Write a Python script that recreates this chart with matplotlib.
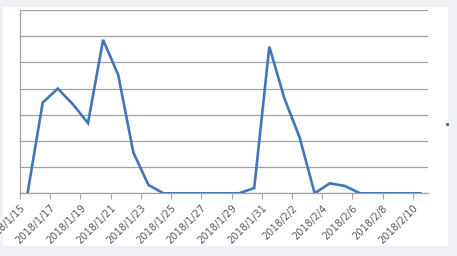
import numpy as np
import matplotlib.pyplot as plt
import matplotlib.dates as mdates
from matplotlib.patches import Rectangle
from matplotlib.lines import Line2D
import datetime as dt

# daily values, 2018/1/15 .. 2018/2/10
start = dt.date(2018, 1, 15)
values = [0, 173, 200, 170, 134, 293, 226, 78, 16, 0,
          0, 0, 0, 0, 0, 10, 280, 181, 107, 0,
          19, 14, 0, 0, 0, 0, 0]
dates = [start + dt.timedelta(days=i) for i in range(len(values))]
tick_dates = [start + dt.timedelta(days=2 * i) for i in range(14)]
tick_labels = [f"{d.year}/{d.month}/{d.day}" for d in tick_dates]

W, H = 457, 256
fig = plt.figure(figsize=(W / 100, H / 100), dpi=100, facecolor="#eef0f3")

# white chart panel
fig.add_artist(Rectangle((3 / W, 1 - 246 / H), 445 / W, 239 / H,
                         transform=fig.transFigure, facecolor="white",
                         edgecolor="none", zorder=0))

ax = fig.add_axes([20 / W, 1 - 193.3 / H, 408 / W, 183.3 / H])
ax.set_facecolor("none")

# points sit in the middle of each day slot (Excel style)
x = mdates.date2num(dates) + 0.5
ax.plot(x, values, color="#4275b9", lw=1.9, solid_joinstyle="miter", zorder=3)

ax.set_xlim(mdates.date2num(start), mdates.date2num(start) + len(values))
ax.set_ylim(0, 350)
ax.set_yticks(np.arange(0, 351, 50))
ax.set_yticklabels([])
ax.tick_params(axis="y", length=0)
ax.grid(axis="y", color="#a3a3a3", lw=0.9)

ax.set_xticks(mdates.date2num(tick_dates))
ax.set_xticklabels(tick_labels, rotation=45, ha="right", va="top",
                   rotation_mode="anchor", fontsize=7.1,
                   family=["Liberation Sans Narrow", "DejaVu Sans"],
                   color="#595959")
ax.tick_params(axis="x", length=4, width=0.8, color="#a3a3a3", pad=3)

for s in ["top", "right"]:
    ax.spines[s].set_visible(False)
for s in ["left", "bottom"]:
    ax.spines[s].set_color("#a3a3a3")
    ax.spines[s].set_linewidth(0.9)

# cropped legend marker
fig.add_artist(Line2D([446.7 / W], [1 - 124.3 / H], marker="s", ms=1.2,
                      color="#4275b9", lw=0, transform=fig.transFigure))

fig.savefig("out.png", dpi=100, facecolor=fig.get_facecolor())
